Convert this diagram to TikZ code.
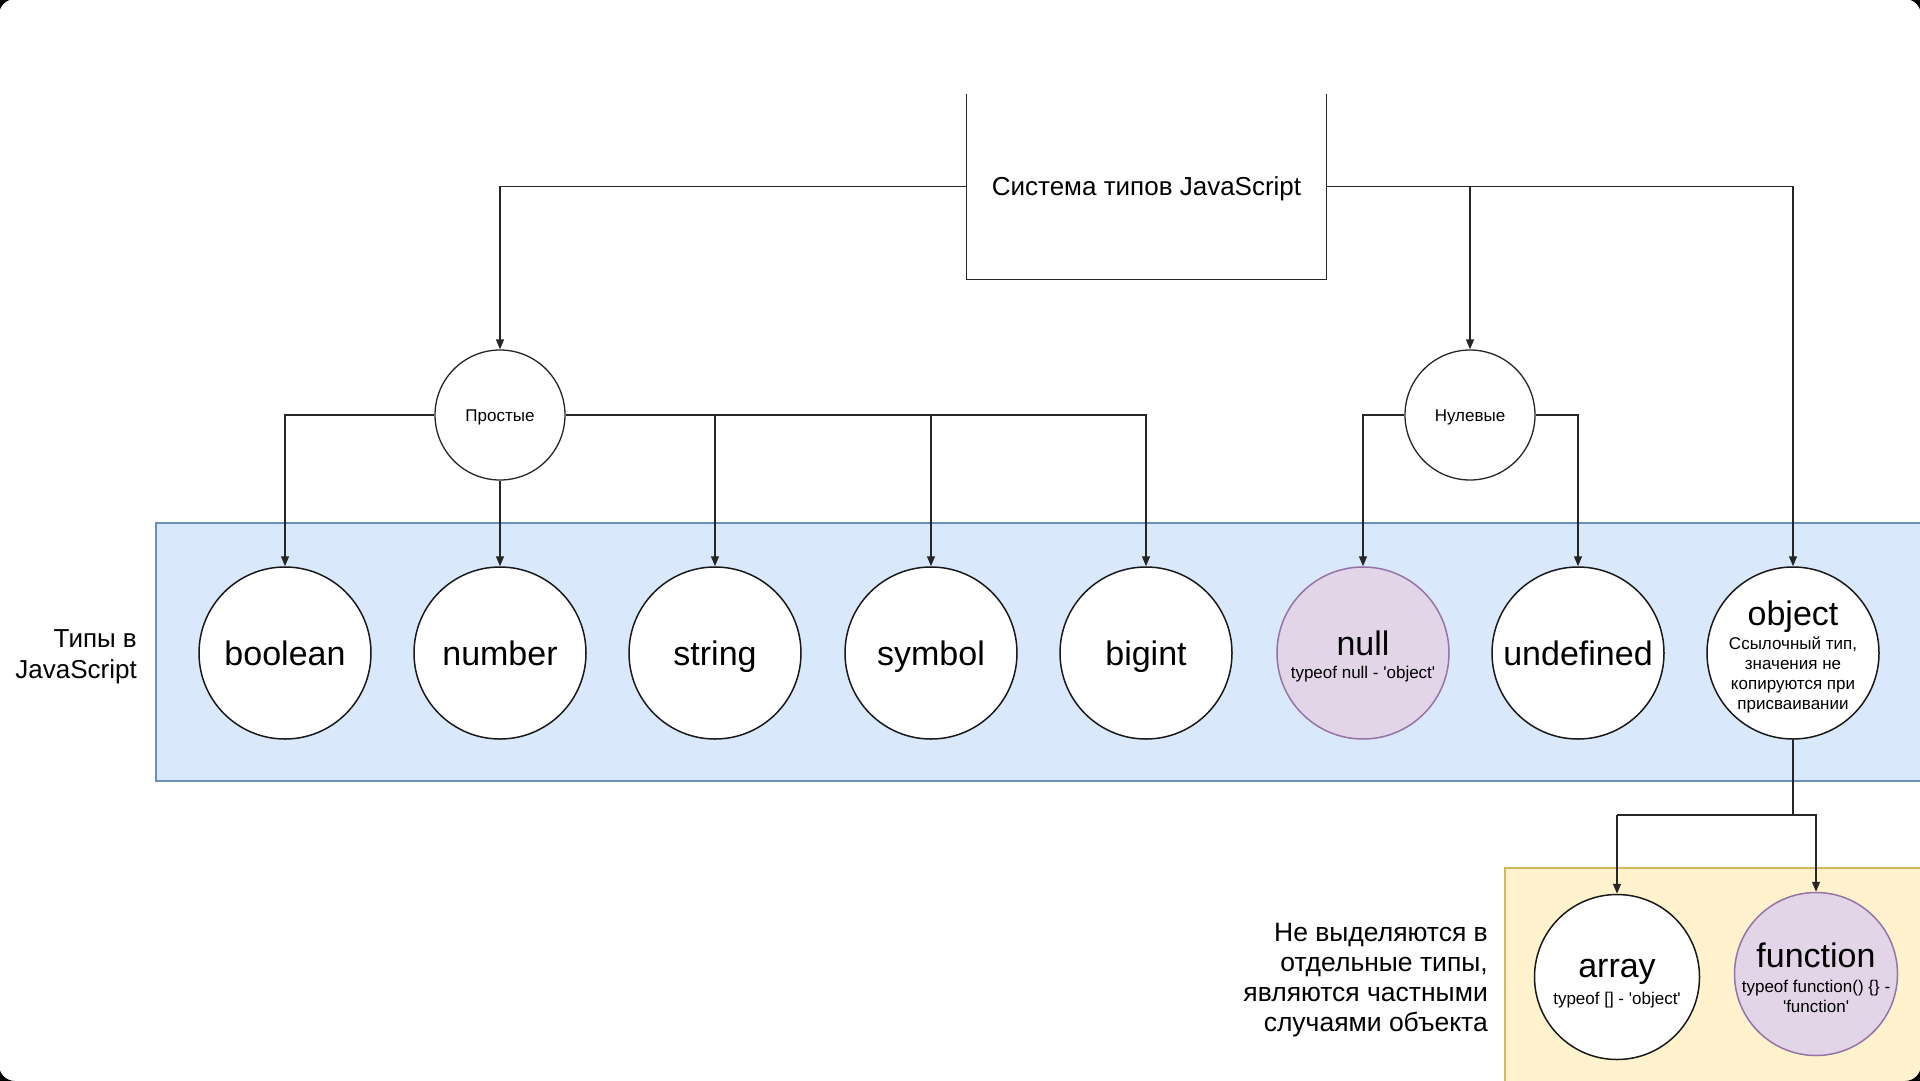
\documentclass[tikz,border=0pt]{standalone}
\usepackage{fontspec}
\setmainfont{Liberation Sans}[Ligatures=TeXOff]
\usetikzlibrary{arrows.meta}
\definecolor{bandfill}{HTML}{DAE8FC}
\definecolor{bandline}{HTML}{6C8EBF}
\definecolor{yelfill}{HTML}{FFF2CC}
\definecolor{yelline}{HTML}{D6B656}
\definecolor{purfill}{HTML}{E1D5E7}
\definecolor{purline}{HTML}{9673A6}
\begin{document}
\begin{tikzpicture}[x=1pt,y=-1pt,
  line/.style={draw=black!85, line width=1.3pt},
  conn/.style={line, -{Triangle[length=10pt,width=8pt]}},
  tcirc/.style={circle, draw=black!90, line width=1.5pt, fill=white, minimum size=172pt, inner sep=0pt, font=\fontsize{34}{40}\selectfont, text height=25pt, text depth=0pt},
  scirc/.style={circle, draw=black!85, line width=1.3pt, fill=white, minimum size=130pt, inner sep=0pt, font=\fontsize{17}{20}\selectfont, text height=12pt, text depth=0pt},
  pcirc/.style={tcirc, fill=purfill, draw=purline},
  big/.style={inner sep=0pt, font=\fontsize{34}{40}\selectfont, text height=25pt, text depth=0pt},
  small/.style={inner sep=0pt, align=center, font=\fontsize{17}{20}\selectfont},
  side/.style={inner sep=0pt, font=\fontsize{26}{30.5}\selectfont}
]
\useasboundingbox (0,0) rectangle (1920,1080);
\fill[white] (0,0) rectangle (1920,1080);
% bands
\fill[bandfill] (156,523) rectangle (1930,781);
\draw[bandline, line width=1.3pt] (1930,523) -- (156,523) -- (156,781) -- (1930,781);
\fill[yelfill] (1505,868) rectangle (1930,1090);
\draw[yelline, line width=1.3pt] (1930,868) -- (1505,868) -- (1505,1090);
% top box
\node (sys) at (1146.5,186.5) [minimum width=359pt, minimum height=185pt, inner sep=0pt, font=\fontsize{26}{30}\selectfont, text height=18pt, text depth=0pt] {Система типов JavaScript};
\draw[line] (sys.north west) -- (sys.south west) -- (sys.south east) -- (sys.north east);
% group circles
\node[scirc] (simple) at (500,415) {Простые};
\node[scirc] (nullg) at (1470,415) {Нулевые};
% type circles
\node[tcirc] (boolean) at (285,653) {boolean};
\node[tcirc] (number) at (500,653) {number};
\node[tcirc] (string) at (715,653) {string};
\node[tcirc] (symbol) at (931,653) {symbol};
\node[tcirc] (bigint) at (1146,653) {bigint};
\node[pcirc] (null) at (1363,653) {};
\node[big] (nullt) at (1363,643) {null};
\node[small] (nulls) at (1363,674) {typeof null - 'object'};
\node[tcirc] (undef) at (1578,653) {undefined};
\node[tcirc] (obj) at (1793,653) {};
\node[big] (objt) at (1793,612.5) {object};
\node[small] (objs) at (1793,675) {Ссылочный тип,\\значения не\\копируются при\\присваивании};
% sub circles
\node[tcirc, minimum size=165pt] (arr) at (1617,977) {};
\node[big] (arrt) at (1617,964.5) {array};
\node[small] (arrs) at (1617,1000) {typeof [] - 'object'};
\node[pcirc, minimum size=163pt] (func) at (1816,974) {};
\node[big] (funct) at (1816,955) {function};
\node[small] (funcs) at (1816,996) {typeof function() \{\} -\\'function'};
% side texts
\node[side, anchor=east, align=right] (lbl) at (137,656.5) {Типы в\\JavaScript};
\node[side, anchor=east, align=right, font=\fontsize{26.5}{29.8}\selectfont] (note) at (1488,980) {Не выделяются в\\отдельные типы,\\являются частными\\случаями объекта};
% connectors
\draw[conn] (sys.west) -| (simple.north);
\draw[conn] (sys.east) -| (obj.north);
\draw[conn] (nullg.north |- sys.east) -- (nullg.north);
\draw[conn] (simple.west) -| (boolean.north);
\draw[conn] (simple.south) -- (number.north);
\draw[conn] (simple.east) -| (bigint.north);
\draw[conn] (string.north |- simple.east) -- (string.north);
\draw[conn] (symbol.north |- simple.east) -- (symbol.north);
\draw[conn] (nullg.west) -| (null.north);
\draw[conn] (nullg.east) -| (undef.north);
\coordinate (ob) at (1793,815);
\draw[line] (obj.south) -- (ob);
\draw[conn] (ob -| arr.north) -- (arr.north);
\draw[conn] (ob -| arr.north) -| (func.north);
% screen corners
\fill[black, even odd rule] (-10,-10) rectangle (1930,1090) [rounded corners=16pt] (-1,-1) rectangle (1921,1081);
\end{tikzpicture}
\end{document}
